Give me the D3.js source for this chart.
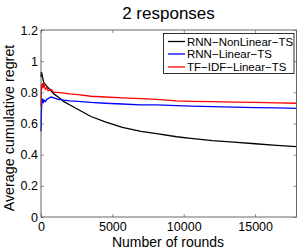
<!DOCTYPE html>
<html>
<head>
    <script src="https://d3js.org/d3.v7.min.js"></script>
    <style>
        body { margin: 0; background: white; }
        svg { display: block; font-family: "Liberation Sans", Arial, sans-serif; }
        .tick text { font-size: 12.5px; fill: black; }
    </style>
</head>
<body>
    <div class="container"></div>
    <script>
        // values
        let rounds = [0, 30, 60, 100, 150, 200, 300, 400, 500, 700, 900, 1200, 1600, 2000, 2600,
                      3500, 4500, 5700, 7000, 8100, 9500, 10500, 12000, 13500, 15000, 16500, 17900];
        let rnnNonLinear = [0.90, 0.93, 0.92, 0.90, 0.88, 0.86, 0.85, 0.84, 0.83, 0.81, 0.79, 0.77, 0.74, 0.72, 0.69,
                            0.645, 0.61, 0.575, 0.55, 0.535, 0.515, 0.505, 0.49, 0.48, 0.47, 0.46, 0.452];
        let rnnLinear = [0.55, 0.68, 0.74, 0.76, 0.73, 0.75, 0.74, 0.755, 0.76, 0.77, 0.765, 0.755, 0.75, 0.745, 0.742,
                         0.735, 0.73, 0.725, 0.72, 0.72, 0.715, 0.712, 0.708, 0.705, 0.702, 0.70, 0.697];
        let tfidfLinear = [0.71, 0.85, 0.82, 0.86, 0.83, 0.85, 0.82, 0.83, 0.81, 0.82, 0.80, 0.80, 0.795, 0.79, 0.785,
                           0.775, 0.77, 0.765, 0.76, 0.755, 0.745, 0.742, 0.74, 0.737, 0.735, 0.732, 0.73];
        let seriesNames = ["RNN\u2212NonLinear\u2212TS", "RNN\u2212Linear\u2212TS", "TF\u2212IDF\u2212Linear\u2212TS"];
        let seriesColors = ["black", "#0000ff", "#ff0000"];
        let xTicks = [0, 5000, 10000, 15000];
        let yTicks = [0, 0.2, 0.4, 0.6, 0.8, 1, 1.2];

        let series = [rnnNonLinear, rnnLinear, tfidfLinear];

        let W = 301, H = 250;
        let mLeft = 41, mRight = 296.5, mTop = 30, mBottom = 217;

        let svg = d3.select(".container").append("svg").attr("width", W).attr("height", H);

        let x = d3.scaleLinear().domain([0, 17900]).range([mLeft, mRight]);
        let y = d3.scaleLinear().domain([0, 1.2]).range([mBottom, mTop]);

        // axes with inward ticks, MATLAB style
        let xAxis = svg.append("g").attr("transform", "translate(0," + mBottom + ")")
            .call(d3.axisBottom(x).tickValues(xTicks).tickSize(-3).tickPadding(5).tickFormat(d3.format("d")));
        let yAxis = svg.append("g").attr("transform", "translate(" + mLeft + ",0)")
            .call(d3.axisLeft(y).tickValues(yTicks).tickSize(-3).tickPadding(3).tickFormat(d => d));
        svg.append("g").attr("transform", "translate(0," + mTop + ")")
            .call(d3.axisTop(x).tickValues(xTicks).tickSize(-3).tickFormat(""));
        svg.append("g").attr("transform", "translate(" + mRight + ",0)")
            .call(d3.axisRight(y).tickValues(yTicks).tickSize(-3).tickFormat(""));
        svg.selectAll(".domain").remove();
        svg.selectAll(".tick line").attr("stroke", "#444").attr("stroke-width", 0.6);

        let line = d3.line()
            .x((d, i) => x(rounds[i]))
            .y(d => y(d));

        svg.selectAll(".series")
            .data(series)
            .enter().append("path")
            .attr("class", "series")
            .attr("d", line)
            .attr("fill", "none")
            .attr("stroke", (d, i) => seriesColors[i])
            .attr("stroke-width", 1.3);

        svg.append("rect")
            .attr("x", mLeft).attr("y", mTop)
            .attr("width", mRight - mLeft).attr("height", mBottom - mTop)
            .attr("fill", "none").attr("stroke", "#444").attr("stroke-width", 0.8);

        // legend
        let lg = svg.append("g");
        lg.append("rect")
            .attr("x", 163.5).attr("y", 33.5).attr("width", 130.5).attr("height", 40)
            .attr("fill", "white").attr("stroke", "black").attr("stroke-width", 0.8);
        let rowsY = [41.5, 54, 67];
        seriesNames.forEach(function(name, i) {
            lg.append("line")
                .attr("x1", 168).attr("x2", 185)
                .attr("y1", rowsY[i]).attr("y2", rowsY[i])
                .attr("stroke", seriesColors[i]).attr("stroke-width", 1.3);
            lg.append("text")
                .attr("x", 187).attr("y", rowsY[i])
                .attr("dy", "0.35em")
                .style("font-size", "11.5px")
                .text(name);
        });

        svg.append("text")
            .attr("x", 168.5).attr("y", 18.5)
            .attr("text-anchor", "middle")
            .style("font-size", "17px")
            .text("2  responses");

        svg.append("text")
            .attr("x", 168).attr("y", 246.5)
            .attr("text-anchor", "middle")
            .style("font-size", "14px")
            .text("Number of rounds");

        svg.append("text")
            .attr("transform", "translate(14,128) rotate(-90)")
            .attr("text-anchor", "middle")
            .style("font-size", "14.3px")
            .text("Average cumulative regret");
    </script>
</body>
</html>
